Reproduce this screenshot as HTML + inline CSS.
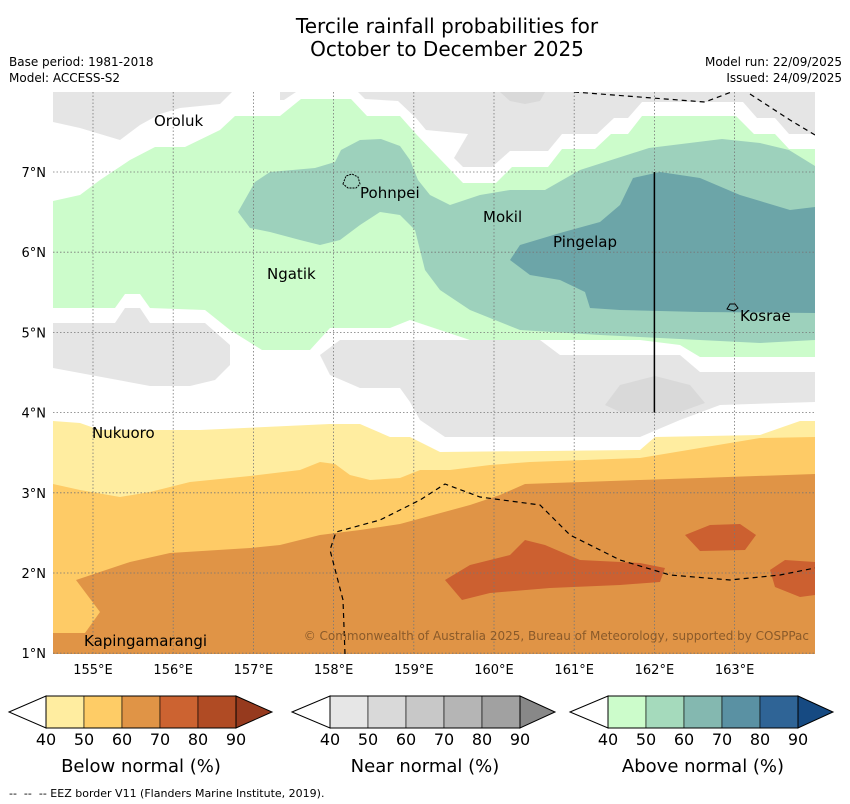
<!DOCTYPE html>
<html><head><meta charset="utf-8"><style>
body{margin:0;background:#fff;width:850px;height:804px;overflow:hidden;font-family:"DejaVu Sans","Liberation Sans",sans-serif}
svg{display:block}
</style></head><body>
<svg width="850" height="804" viewBox="0 0 850 804" font-family="DejaVu Sans, Liberation Sans, sans-serif">
<text x="447" y="33" font-size="20" text-anchor="middle">Tercile rainfall probabilities for</text>
<text x="447" y="56" font-size="20" text-anchor="middle">October to December 2025</text>
<text x="9" y="66" font-size="12">Base period: 1981-2018</text>
<text x="9" y="82" font-size="12">Model: ACCESS-S2</text>
<text x="842" y="66" font-size="12" text-anchor="end">Model run: 22/09/2025</text>
<text x="842" y="82" font-size="12" text-anchor="end">Issued: 24/09/2025</text>
<defs><clipPath id="mc"><rect x="53" y="92" width="762" height="562"/></clipPath></defs>
<rect x="53" y="92" width="762" height="562" fill="#fff"/>
<g id="fills" clip-path="url(#mc)"></g>
<g id="grid"></g>
<g id="overlay" clip-path="url(#mc)"></g>
<g id="labels"></g>
<text x="809" y="640" font-size="12" fill="#8a5a2a" text-anchor="end">© Commonwealth of Australia 2025, Bureau of Meteorology, supported by COSPPac</text>
<g id="cbars"></g>
<text x="9" y="797" font-size="11">-- &#160;-- &#160;-- EEZ border V11 (Flanders Marine Institute, 2019).</text>
</svg>
<script>
// axis ticks
const lonTicks=[155,156,157,158,159,160,161,162,163];
const latTicks=[1,2,3,4,5,6,7];
const lonLabels=["155°E","156°E","157°E","158°E","159°E","160°E","161°E","162°E","163°E"];
const latLabels=["1°N","2°N","3°N","4°N","5°N","6°N","7°N"];
const cbarLevels=["40","50","60","70","80","90"];
function X(lon){return 93+(lon-155)*80.2;}
function Y(lat){return 172-(lat-7)*80.2;}
function LON(px){return 155+(px-93)/80.2;}
function LAT(py){return 7-(py-172)/80.2;}
function P(arr){const o=[];for(let i=0;i<arr.length;i+=2)o.push([LON(arr[i]),LAT(arr[i+1])]);return o;}
const regions=[
 ["above-40-region","#ccfccb",P([53,201,80,195,100,180,130,160,155,147,185,147,220,130,235,116,280,116,301,99,351,99,367,116,400,116,416,134,463,183,496,183,512,167,548,167,562,149,595,149,611,134,628,134,642,116,736,116,754,134,775,134,789,149,815,149,815,357,700,357,680,345,640,340,470,340,410,320,390,328,330,328,310,350,262,350,230,330,205,310,150,308,140,294,125,294,115,308,53,308])],
 ["above-50-region","#9dd1bc",P([238,212,255,182,270,172,315,168,335,162,341,150,360,140,381,139,400,146,410,160,418,180,430,195,450,205,480,195,510,190,545,190,580,170,649,148,722,139,760,143,789,150,815,166,815,340,760,343,700,340,600,335,520,330,470,310,440,290,425,270,420,250,415,230,400,215,380,212,360,225,340,240,320,245,300,240,270,232,250,228])],
 ["above-60-region","#6ca5a8",P([510,260,520,245,560,233,600,222,620,205,633,178,660,172,700,178,740,195,790,210,815,207,815,313,700,312,620,310,590,308,585,292,560,280,530,275])],
 ["near-40-top-left","#e5e5e5",P([53,92,232,92,220,104,180,108,160,114,140,125,120,140,80,128,53,122])],
 ["near-40-top-right","#e5e5e5",P([358,92,815,92,815,134,789,134,775,118,757,118,743,102,642,102,628,118,614,118,597,134,562,134,548,151,510,151,492,167,463,167,454,158,468,134,426,130,416,118,398,101,365,99])],
 ["near-40-top-center","#e5e5e5",P([280,92,296,92,284,100,280,100])],
 ["near-40-left","#e5e5e5",P([53,323,115,323,125,308,140,308,150,323,205,323,230,345,230,365,215,380,190,386,150,386,53,368])],
 ["near-40-right","#e5e5e5",P([320,355,340,340,540,340,560,355,680,355,700,372,815,372,815,402,720,405,680,420,640,437,445,437,420,420,410,402,400,388,360,388,330,375])],
 ["near-50-blob","#d9d9d9",P([605,405,620,385,655,376,690,385,705,403,680,412,620,412])],
 ["near-50-top","#d9d9d9",P([500,92,545,92,540,101,525,104,510,101])],
 ["below-40-region","#ffeda0",P([53,421,80,423,100,430,200,430,330,424,360,424,390,437,410,437,440,452,640,450,655,437,760,435,800,421,815,421,815,654,53,654])],
 ["below-50-region","#fecb66",P([53,484,80,490,120,497,150,492,190,482,250,476,300,470,320,462,335,464,350,475,370,480,400,478,420,470,450,470,490,465,530,462,640,458,700,448,760,438,815,437,815,654,53,654])],
 ["below-60-region","#e09446",P([53,633,85,633,100,612,76,580,130,562,170,553,250,548,280,545,320,535,360,530,400,524,470,505,500,495,525,484,640,480,700,478,815,474,815,654,53,654])],
 ["below-70-region-a","#cc6030",P([445,580,470,565,510,555,525,540,545,545,580,560,640,563,665,568,660,582,620,585,550,588,490,593,462,600])],
 ["below-70-region-b","#cc6030",P([685,535,710,525,740,524,756,535,745,550,700,551])],
 ["below-70-region-c","#cc6030",P([770,570,785,560,815,562,815,595,800,597,775,587])]
];
const eez=[
 P([574,92,705,102,742,88]),
 P([750,94,790,120,815,135]),
 P([345,654,343,600,330,550,336,532,380,520,420,500,445,484,480,497,540,505,570,535,620,560,670,575,730,580,780,575,815,568])
];
const islands=[["Oroluk",154,126],["Pohnpei",360,198],["Mokil",483,222],["Pingelap",553,247],["Ngatik",267,279],["Kosrae",740,321],["Nukuoro",92,438],["Kapingamarangi",84,646]];
const NS="http://www.w3.org/2000/svg";
function mk(t,a,parent){const e=document.createElementNS(NS,t);for(const k in a)e.setAttribute(k,a[k]);parent.appendChild(e);return e;}
const fills=document.getElementById('fills');
regions.forEach(r=>{const e=mk('polygon',{points:r[2].map(p=>X(p[0]).toFixed(1)+','+Y(p[1]).toFixed(1)).join(' '),fill:r[1]},fills);

});
const grid=document.getElementById('grid');
lonTicks.forEach((l,i)=>{const g=mk('line',{x1:X(l),x2:X(l),y1:92,y2:654,stroke:'#777','stroke-width':0.8,'stroke-dasharray':'1.5,2'},grid);


const t=mk('text',{x:X(l),y:674,'font-size':13,'text-anchor':'middle'},grid);t.textContent=lonLabels[i];

});
latTicks.forEach((l,i)=>{const g=mk('line',{x1:53,x2:815,y1:Y(l),y2:Y(l),stroke:'#777','stroke-width':0.8,'stroke-dasharray':'1.5,2'},grid);


const t=mk('text',{x:46,y:Y(l)+5,'font-size':13,'text-anchor':'end'},grid);t.textContent=latLabels[i];

});
const ov=document.getElementById('overlay');
eez.forEach(s=>{const e=mk('polyline',{points:s.map(p=>X(p[0]).toFixed(1)+','+Y(p[1]).toFixed(1)).join(' '),fill:'none',stroke:'#000','stroke-width':1.2,'stroke-dasharray':'5,4'},ov);

});
const vl=mk('line',{x1:X(162),x2:X(162),y1:Y(7),y2:Y(4),stroke:'#000','stroke-width':1.5},ov);


const pohn=mk('path',{d:'M343,184 l3,-8 l6,-2 l6,3 l2,7 l-4,4 l-8,0 z',fill:'none',stroke:'#000','stroke-width':1,'stroke-dasharray':'2,1'},ov);


const kos=mk('path',{d:'M727,309 l3,-5 l5,0 l3,4 l-4,3 z',fill:'none',stroke:'#000','stroke-width':1},ov);


const lab=document.getElementById('labels');
islands.forEach(s=>{const t=mk('text',{x:s[1],y:s[2],'font-size':15},lab);t.textContent=s[0];

});
const cb=document.getElementById('cbars');
const bars=[["below",9,46,272,["#ffeda0","#fecc66","#e09446","#cc6331","#b04b24"],"#963a1e","Below normal (%)"],
 ["near",292,330,555,["#e6e6e6","#d9d9d9","#c8c8c8","#b5b5b5","#a1a1a1"],"#888888","Near normal (%)"],
 ["above",570,608,833,["#ccfccb","#a5dabc","#84b8b0","#5a91a3","#2f6496"],"#164a82","Above normal (%)"]];
bars.forEach(b=>{const [nm,tipL,x0,tipR,cols,arr,title]=b;const w=38,y0=696,y1=728,ym=712;const xe=x0+w*5;
let e=mk('polygon',{points:`${tipL},${ym} ${x0},${y0} ${x0},${y1}`,fill:'#fff',stroke:'#000','stroke-width':1},cb);


cols.forEach((c,i)=>{const r=mk('rect',{x:x0+i*w,y:y0,width:w,height:y1-y0,fill:c,stroke:'#000','stroke-width':0.6},cb);

});
e=mk('polygon',{points:`${xe},${y0} ${tipR},${ym} ${xe},${y1}`,fill:arr,stroke:'#000','stroke-width':1},cb);


mk('rect',{x:x0,y:y0,width:w*5,height:y1-y0,fill:'none',stroke:'#000','stroke-width':1},cb);
cbarLevels.forEach((l,i)=>{const t=mk('text',{x:x0+i*w,y:745,'font-size':16,'text-anchor':'middle'},cb);t.textContent=l;

});
const t=mk('text',{x:x0+w*2.5,y:772,'font-size':18,'text-anchor':'middle'},cb);t.textContent=title;

});
</script>
</body></html>
